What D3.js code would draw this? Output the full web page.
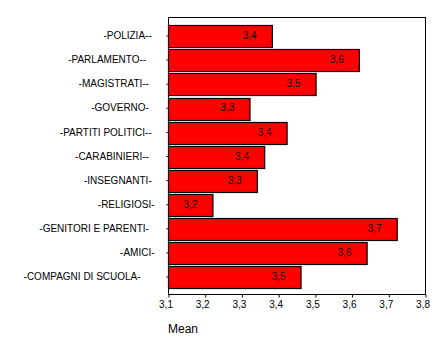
<!DOCTYPE html>
<html>
<head>
<meta charset="utf-8">
<script src="https://cdn.jsdelivr.net/npm/d3@7"></script>
<style>
  html, body { margin: 0; padding: 0; background: #fff; }
  svg { display: block; }
  text { font-family: "Liberation Sans", Arial, sans-serif; white-space: pre; }
</style>
</head>
<body>
<svg id="chart" width="448" height="352"></svg>
<script>
// Category labels (trailing spaces as in the original value labels)
const categories = [
  "-POLIZIA-- ",
  "-PARLAMENTO--   ",
  "-MAGISTRATI--  ",
  "-GOVERNO-  ",
  "-PARTITI POLITICI-- ",
  "-CARABINIERI--  ",
  "-INSEGNANTI- ",
  "-RELIGIOSI-",
  "-GENITORI E PARENTI-  ",
  "-AMICI-",
  "-COMPAGNI DI SCUOLA-     "
];
// Mean values
const means = [3.383, 3.620, 3.502, 3.322, 3.423, 3.362, 3.342, 3.221, 3.723, 3.641, 3.461];
// X tick values
const xTicks = [3.1, 3.2, 3.3, 3.4, 3.5, 3.6, 3.7, 3.8];
const xTitle = "Mean";

const data = categories.map((c, i) => ({ cat: c, v: means[i] }));
const fmt = v => d3.format(".1f")(v).replace(".", ",");

const svg = d3.select("#chart");
const L = 168, R = 425, T = 17, B = 294;

const x = d3.scaleLinear().domain([3.1, 3.8]).range([L, R]);
const y = d3.scaleBand().domain(categories).range([22, 291])
  .paddingInner(0.108).paddingOuter(0.134);

// plot frame
svg.append("rect")
  .attr("x", L + 0.5).attr("y", T + 0.5)
  .attr("width", R - L).attr("height", B - T)
  .attr("fill", "#fff").attr("stroke", "#000").attr("stroke-width", 1);

// bars
svg.append("g").selectAll("rect").data(data).join("rect")
  .attr("x", L + 0.5)
  .attr("y", d => Math.round(y(d.cat)) + 0.5)
  .attr("width", d => x(d.v) - L)
  .attr("height", Math.round(y.bandwidth()))
  .attr("fill", "#ff0000")
  .attr("stroke", "#000")
  .attr("stroke-width", 1.2);

// value labels
svg.append("g").selectAll("text").data(data).join("text")
  .attr("x", d => x(d.v) - 15)
  .attr("y", d => y(d.cat) + y.bandwidth() / 2)
  .attr("dy", "0.32em")
  .attr("text-anchor", "end")
  .attr("font-size", 10)
  .attr("fill", "#000")
  .text(d => fmt(d.v));

// y axis
const yAxis = svg.append("g")
  .attr("transform", `translate(${L + 0.5},0)`)
  .call(d3.axisLeft(y).tickSize(2).tickPadding(12));
yAxis.select(".domain").remove();
yAxis.selectAll("text")
  .attr("font-size", 10)
  .attr("font-family", "Liberation Sans, Arial, sans-serif")
  .attr("fill", "#000")
  .attr("xml:space", "preserve");
yAxis.selectAll("line").attr("stroke", "#000");

// x axis
const xAxis = svg.append("g")
  .attr("transform", `translate(0.5,${B + 0.5})`)
  .call(d3.axisBottom(x).tickValues(xTicks).tickSize(3).tickPadding(3).tickFormat(fmt));
xAxis.select(".domain").remove();
xAxis.selectAll("text")
  .attr("font-size", 10)
  .attr("font-family", "Liberation Sans, Arial, sans-serif")
  .attr("fill", "#000")
  .attr("dx", -3);
xAxis.selectAll("line").attr("stroke", "#000");

// x title
svg.append("text")
  .attr("x", L).attr("y", 333)
  .attr("font-size", 12)
  .attr("fill", "#000")
  .text(xTitle);
</script>
</body>
</html>
